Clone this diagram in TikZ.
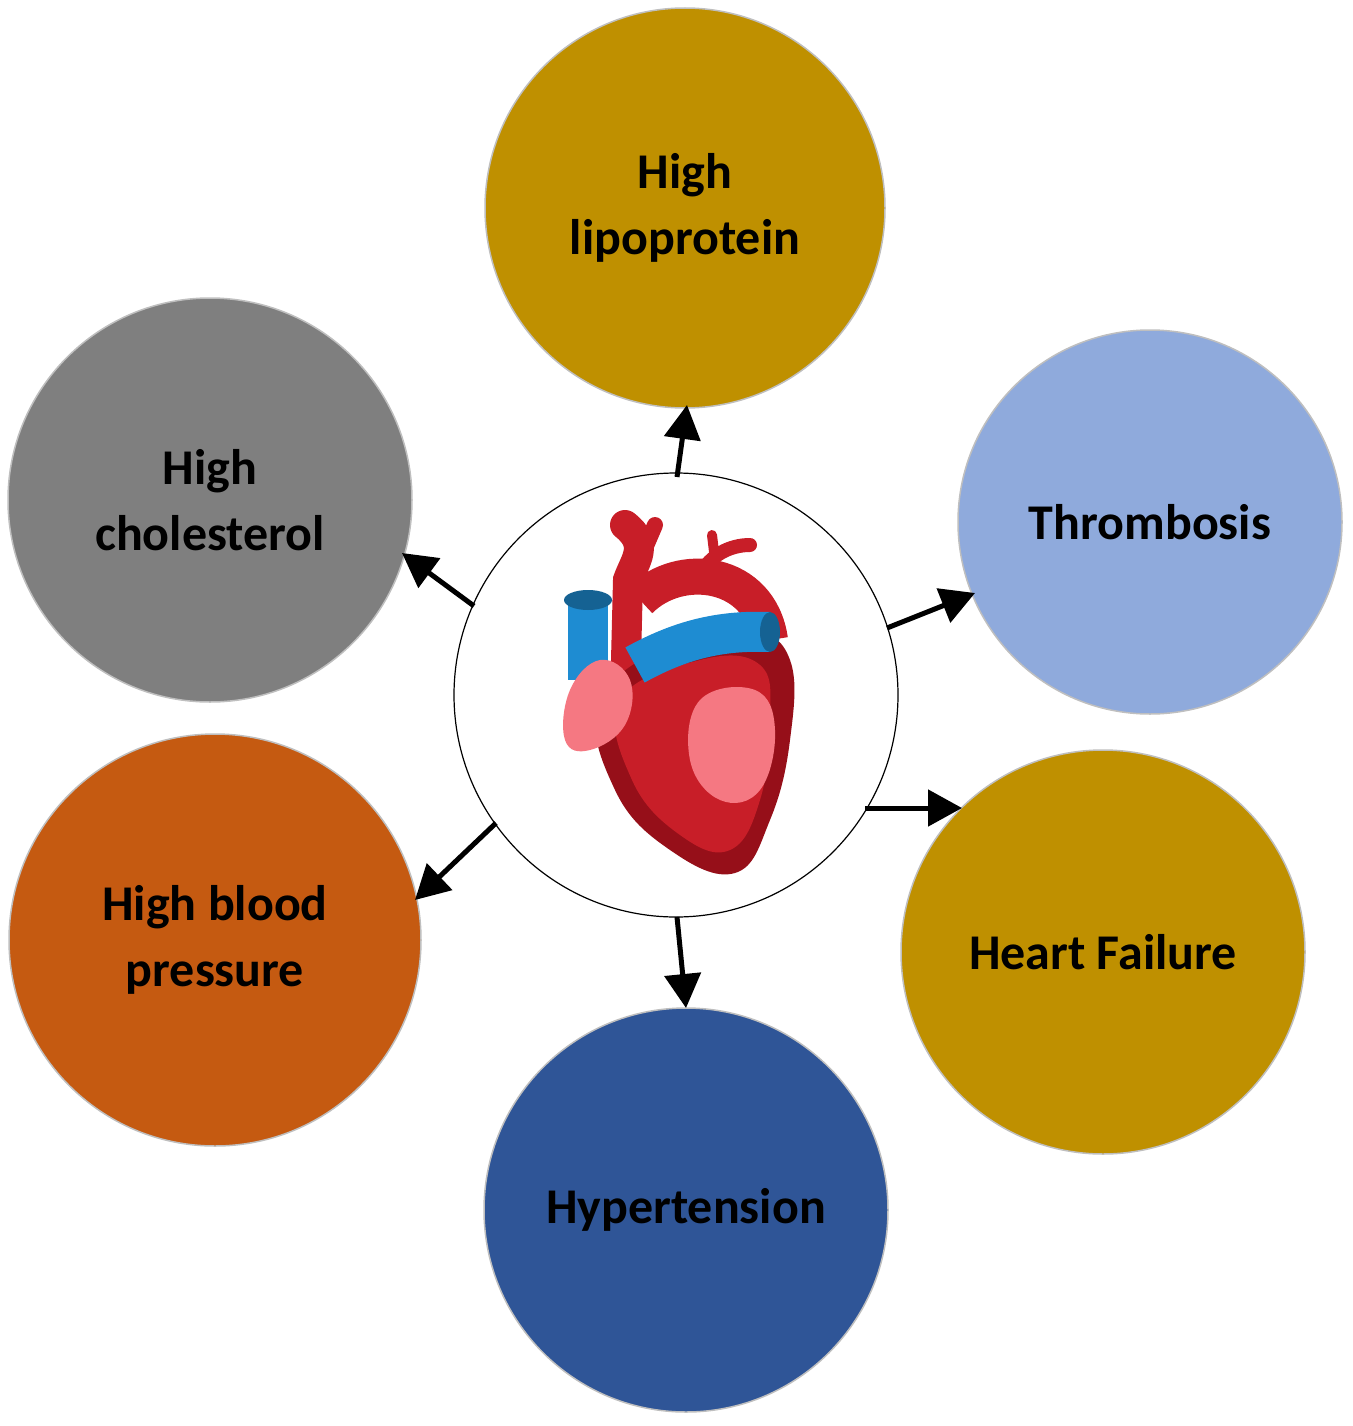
\documentclass[tikz,border=0pt]{standalone}
\usepackage{fontspec}
\setmainfont{Carlito}
\usetikzlibrary{arrows.meta}
\definecolor{gold}{RGB}{191,144,0}
\definecolor{lblue}{RGB}{143,170,220}
\definecolor{dblue}{RGB}{47,85,151}
\definecolor{orng}{RGB}{197,90,17}
\definecolor{gry}{RGB}{127,127,127}
\definecolor{hred}{RGB}{200,30,40}
\definecolor{hdred}{RGB}{150,15,25}
\definecolor{hblue}{RGB}{30,140,210}
\definecolor{hpink}{RGB}{245,120,130}
\begin{document}
\begin{tikzpicture}[x=1pt,y=-1pt,
  bub/.style={circle,draw=black!25,line width=1.5pt,align=center,font=\fontsize{50}{66}\selectfont\bfseries,text=black},
  arr/.style={line width=5pt,-{Triangle[length=34pt,width=36pt]}}]
\useasboundingbox (0,0) rectangle (1352,1426);
\node[bub,fill=gold,minimum size=400pt] (lip) at (685,208) {High\\lipoprotein};
\node[bub,fill=lblue,minimum size=384pt] (thr) at (1150,522) {Thrombosis};
\node[bub,fill=gold,minimum size=404pt] (hf) at (1103,952) {Heart Failure};
\node[bub,fill=dblue,minimum size=404pt] (hyp) at (686,1210) {Hypertension};
\node[bub,fill=orng,minimum size=412pt] (hbp) at (215,940) {High blood\\pressure};
\node[bub,fill=gry,minimum size=404pt] (hc) at (210,500) {High\\cholesterol};
\node[circle,draw=black,line width=1.2pt,fill=white,minimum size=444pt] (c) at (676,695) {};
\coordinate (a1) at (677,477); \coordinate (a2) at (887,628); \coordinate (a3) at (865,808);
\coordinate (a4) at (677,917); \coordinate (a5) at (496,823); \coordinate (a6) at (474,606);
\draw[arr] (a1) -- (687,405) coordinate (b1);
\draw[arr] (a2) -- (975,593);
\draw[arr] (a3) -- (962,808);
\draw[arr] (a4) -- (686,1008);
\draw[arr] (a5) -- (415,900);
\draw[arr] (a6) -- (402,553);
% heart
\draw[hred,line width=30pt,line cap=round] (625,700) -- (628,580) .. controls (635,560) and (650,545) .. (625,525);
\draw[hred,line width=16pt,line cap=round] (640,560) -- (655,525);
\draw[hred,line width=14pt,line cap=round] (700,575) .. controls (710,555) and (730,545) .. (750,545);
\draw[hred,line width=10pt,line cap=round] (715,560) -- (712,535);
\draw[hred,line width=36pt] (640,600) .. controls (680,560) and (760,570) .. (770,640);
\fill[hdred] plot[smooth cycle,tension=0.7] coordinates {(600,700) (615,790) (670,850) (735,873) (770,820) (790,740) (790,660) (750,630) (680,640)};
\fill[hred] plot[smooth cycle,tension=0.7] coordinates {(620,700) (632,780) (680,835) (730,850) (760,800) (770,720) (760,665) (700,660)};
\fill[hpink] plot[smooth cycle,tension=0.7] coordinates {(700,700) (690,760) (720,800) (760,790) (775,730) (755,690)};
\draw[hblue,line width=40pt,line cap=butt] (588,600) -- (588,680);
\fill[hblue!70!black] (588,600) ellipse (24pt and 10pt);
\draw[hblue,line width=40pt] (635,665) .. controls (680,640) and (720,630) .. (770,632);
\fill[hblue!70!black] (770,632) ellipse (10pt and 20pt);
\fill[hpink] plot[smooth cycle,tension=0.7] coordinates {(600,660) (570,690) (565,740) (590,750) (625,725) (630,680)};
\end{tikzpicture}
\end{document}
